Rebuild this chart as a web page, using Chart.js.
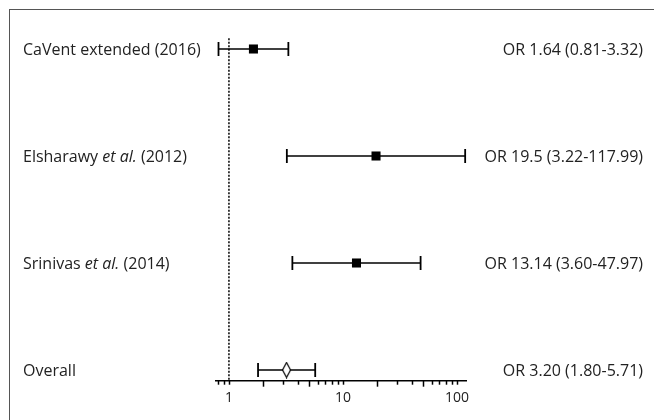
<!DOCTYPE html>
<html>
<head>
<meta charset="utf-8">
<script src="https://cdn.jsdelivr.net/npm/chart.js@4.4.1/dist/chart.umd.min.js"></script>
<style>
    body { margin: 0; background: #fff; overflow: hidden; }
    .wrap { position: relative; width: 654px; height: 420px; }
    .frame { position: absolute; left: 9px; top: 9px; width: 700px; height: 500px; border-top: 1.5px solid #555; border-left: 1.5px solid #555; pointer-events: none; }
</style>
</head>
<body>
<div class="wrap">
    <canvas id="forest" width="654" height="420"></canvas>
    <div class="frame"></div>
</div>
<script>
// rows, top to bottom
var studyNames = [
    [['CaVent extended (2016)', false]],
    [['Elsharawy ', false], ['et al.', true], [' (2012)', false]],
    [['Srinivas ', false], ['et al.', true], [' (2014)', false]],
    [['Overall', false]]
];
var oddsRatio = [1.64, 19.5, 13.14, 3.20];
var lowerCI = [0.81, 3.22, 3.60, 1.80];
var upperCI = [3.32, 117.99, 47.97, 5.71];
var orLabels = ['OR 1.64 (0.81-3.32)', 'OR 19.5 (3.22-117.99)', 'OR 13.14 (3.60-47.97)', 'OR 3.20 (1.80-5.71)'];

var tickValues = [0.8, 0.9, 1, 2, 3, 4, 5, 6, 7, 8, 9, 10, 20, 30, 40, 50, 60, 70, 80, 90, 100];
var labelledTicks = [1, 10, 100];
var longTicks = [2, 5, 20, 50];

var textColor = '#222';
var fontFamily = "'Open Sans', 'Noto Sans', sans-serif";

// narrow open diamond for the pooled estimate
var diamond = document.createElement('canvas');
diamond.width = 11;
diamond.height = 17;
(function () {
    var c = diamond.getContext('2d');
    c.beginPath();
    c.moveTo(5.5, 1);
    c.lineTo(9.5, 8.5);
    c.lineTo(5.5, 16);
    c.lineTo(1.5, 8.5);
    c.closePath();
    c.fillStyle = '#fff';
    c.fill();
    c.lineWidth = 1.2;
    c.strokeStyle = '#000';
    c.stroke();
})();

var datasets = [];

// dashed line of no effect
datasets.push({
    data: [{ x: 1, y: -0.1 }, { x: 1, y: 3.1 }],
    borderColor: '#000',
    borderWidth: 1.5,
    borderDash: [2, 1.5],
    pointRadius: 0,
    order: 3,
    clip: false
});

// confidence intervals with end caps
oddsRatio.forEach(function (or, i) {
    datasets.push({
        data: [{ x: lowerCI[i], y: i }, { x: upperCI[i], y: i }],
        borderColor: '#000',
        borderWidth: 1.5,
        pointStyle: 'line',
        rotation: 90,
        pointRadius: 7,
        pointHoverRadius: 7,
        pointBorderColor: '#000',
        pointBorderWidth: 1.8,
        order: 2,
        clip: false
    });
});

// study estimates
datasets.push({
    data: oddsRatio.slice(0, 3).map(function (v, i) { return { x: v, y: i }; }),
    showLine: false,
    pointStyle: 'rect',
    pointRadius: 6.4,
    pointHoverRadius: 6.4,
    pointBackgroundColor: '#000',
    pointBorderColor: '#000',
    pointBorderWidth: 0,
    order: 0,
    clip: false
});

// pooled estimate
datasets.push({
    data: [{ x: oddsRatio[3], y: 3 }],
    showLine: false,
    pointStyle: diamond,
    order: 0,
    clip: false
});

var axisTicksPlugin = {
    id: 'axisTicks',
    afterDatasetsDraw: function (chart) {
        var ctx = chart.ctx;
        var xs = chart.scales.x;
        var ys = chart.scales.y;
        var bottom = chart.chartArea.bottom;

        ctx.save();
        ctx.strokeStyle = '#000';
        ctx.lineWidth = 1.5;
        tickValues.forEach(function (v) {
            var px = Math.round(xs.getPixelForValue(v)) + 0.5;
            var len = longTicks.indexOf(v) > -1 ? 6 : 4;
            ctx.beginPath();
            ctx.moveTo(px, bottom);
            ctx.lineTo(px, bottom + len);
            ctx.stroke();
        });

        // row labels on the left, OR text on the right
        ctx.fillStyle = textColor;
        ctx.textBaseline = 'middle';
        studyNames.forEach(function (parts, i) {
            var y = ys.getPixelForValue(i) + 1;
            var x = 23;
            ctx.textAlign = 'left';
            parts.forEach(function (p) {
                ctx.font = (p[1] ? 'italic ' : '') + '16px ' + fontFamily;
                ctx.fillText(p[0], x, y);
                x += ctx.measureText(p[0]).width;
            });
            ctx.font = '16px ' + fontFamily;
            ctx.textAlign = 'right';
            ctx.fillText(orLabels[i], 643, y);
        });
        ctx.restore();
    }
};

new Chart(document.getElementById('forest'), {
    type: 'line',
    data: { datasets: datasets },
    options: {
        responsive: false,
        devicePixelRatio: 1,
        animation: false,
        layout: {
            padding: { left: 216, right: 188, top: 38.3, bottom: 0 }
        },
        scales: {
            x: {
                type: 'logarithmic',
                min: 0.77,
                max: 120,
                afterBuildTicks: function (scale) {
                    scale.ticks = tickValues.map(function (v) { return { value: v }; });
                },
                afterFit: function (scale) {
                    scale.height = 39.3;
                },
                grid: {
                    display: true,
                    drawOnChartArea: false,
                    drawTicks: false
                },
                border: {
                    display: true,
                    color: '#000',
                    width: 1.5
                },
                ticks: {
                    autoSkip: false,
                    maxRotation: 0,
                    padding: 9,
                    color: '#222',
                    font: { family: fontFamily, size: 14 },
                    callback: function (value) {
                        return labelledTicks.indexOf(value) > -1 ? String(value) : '';
                    }
                }
            },
            y: {
                type: 'linear',
                display: false,
                reverse: true,
                min: -0.1,
                max: 3.1
            }
        },
        plugins: {
            legend: { display: false },
            tooltip: { enabled: false }
        }
    },
    plugins: [axisTicksPlugin]
});
</script>
</body>
</html>
